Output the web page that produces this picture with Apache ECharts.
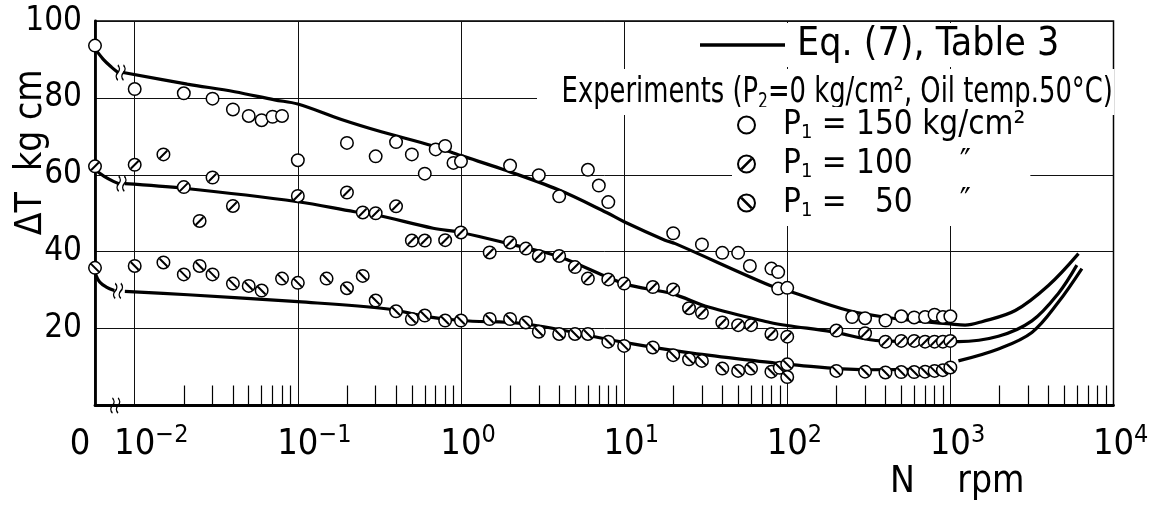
<!DOCTYPE html>
<html><head><meta charset="utf-8">
<script src="https://cdn.jsdelivr.net/npm/echarts@6/dist/echarts.min.js"></script>
<style>html,body{margin:0;padding:0;background:#fff}#c{width:1157px;height:510px}</style>
</head><body><div id="c"></div>
<script>
// ---- axis definition (N in rpm, log scale; N = 0 is drawn at the left end of the axis) ----
const AXIS_MIN_N = 0.00571;
const AXIS_MAX_N = 10000;
const DECADES = [-2, -1, 0, 1, 2, 3, 4];
const MINOR_MULT = [2, 3, 4, 5, 6, 7, 8, 9];
const Y_TICKS = [0, 20, 40, 60, 80, 100];

// ---- experiments ----
const N_150 = [0, 0.01, 0.02, 0.03, 0.04, 0.05, 0.06, 0.07, 0.08, 0.1, 0.2, 0.3, 0.4, 0.5, 0.6, 0.7, 0.8, 0.9, 1, 2, 3, 4, 6, 7, 8, 20, 30, 40, 50, 59, 80, 88, 88, 100, 250, 300, 400, 500, 600, 700, 800, 900, 1000];
const T_150 = [93.6, 82.3, 81.2, 79.8, 77.0, 75.3, 74.2, 75.1, 75.3, 63.8, 68.3, 64.8, 68.5, 65.3, 60.3, 66.6, 67.5, 63.1, 63.5, 62.4, 59.9, 54.4, 61.3, 57.2, 52.9, 44.8, 41.9, 39.7, 39.7, 36.3, 35.6, 34.7, 30.4, 30.6, 23.0, 22.7, 22.1, 23.2, 22.9, 23.0, 23.6, 23.0, 23.2];

const N_100 = [0, 0.01, 0.015, 0.02, 0.025, 0.03, 0.04, 0.1, 0.2, 0.25, 0.3, 0.4, 0.5, 0.6, 0.8, 1, 1.5, 2, 2.5, 3, 4, 5, 6, 8, 10, 15, 20, 25, 30, 40, 50, 60, 80, 100, 200, 300, 400, 500, 600, 700, 800, 900, 1000];
const T_100 = [62.2, 62.6, 65.3, 56.8, 48.0, 59.3, 51.9, 54.5, 55.4, 50.2, 50.0, 51.8, 42.9, 42.9, 43.0, 45.0, 39.8, 42.4, 40.8, 38.9, 38.9, 36.0, 33.0, 32.8, 31.7, 30.8, 30.2, 25.3, 24.1, 21.6, 20.9, 20.9, 18.6, 17.9, 19.5, 18.8, 16.6, 16.8, 16.8, 16.6, 16.6, 16.6, 16.8];

const N_50 = [0, 0.01, 0.015, 0.02, 0.025, 0.03, 0.04, 0.05, 0.06, 0.08, 0.1, 0.15, 0.2, 0.25, 0.3, 0.4, 0.5, 0.6, 0.8, 1, 1.5, 2, 2.5, 3, 4, 5, 6, 8, 10, 15, 20, 25, 30, 40, 50, 60, 80, 90, 100, 100, 200, 300, 400, 500, 600, 700, 800, 900, 1000];
const T_50 = [35.8, 36.3, 37.2, 34.1, 36.3, 34.1, 31.7, 31.1, 29.9, 33.0, 31.9, 33.0, 30.5, 33.7, 27.3, 24.5, 22.5, 23.4, 22.1, 22.1, 22.5, 22.5, 21.6, 19.2, 18.6, 18.6, 18.6, 16.6, 15.5, 15.1, 13.1, 12.0, 11.6, 9.6, 9.0, 9.6, 8.8, 9.8, 10.7, 7.4, 9.0, 8.8, 8.6, 8.7, 8.7, 8.8, 9.0, 9.2, 9.9];

// ---- Eq.(7) curves (null T = break in the curve) ----
const CURVE_150_N = [0, 0.0064, 0.0072, 0.0079, 0.0082, 0.0085, 0.021, 0.041, 0.072, 0.1, 0.185, 0.325, 0.675, 1, 1.78, 3.96, 7.8, 10, 17.8, 20.6, 78.5, 100, 237, 481, 1000, 1230, 1560, 2500, 3990, 6100];
const CURVE_150_T = [92.8, 90.1, 88.0, 86.6, null, 86.6, 83.6, 81.6, 79.5, 78.4, 74.4, 71.2, 67.5, 65.0, 61.5, 56.1, 50.2, 47.8, 43.0, 42.1, 31.2, 29.9, 24.7, 22.5, 21.2, 20.9, 21.8, 24.7, 31.2, 39.5];

const CURVE_100_N = [0, 0.0065, 0.0074, 0.0080, 0.0083, 0.0087, 0.02, 0.1, 0.223, 0.3, 0.675, 1, 1.95, 4, 10, 19.6, 32.9, 78.5, 100, 187, 380, 1000, 1120, 1970, 3160, 4600, 5960];
const CURVE_100_T = [61.3, 59.6, 58.3, 57.7, null, 57.7, 56.5, 53.0, 50.4, 49.6, 46.1, 45.0, 42.1, 38.7, 31.7, 29.1, 25.6, 21.6, 20.8, 19.2, 16.8, 16.6, 16.6, 18.0, 22.0, 29.2, 36.5];

const CURVE_50_N = [0, 0.0061, 0.0067, 0.0075, 0.0081, 0.0087, 0.0212, 0.1, 0.357, 0.6, 1, 2.5, 10, 26, 78.5, 100, 300, 1000, 1060, 1120, 1970, 3160, 4600, 6400];
const CURVE_50_T = [34.5, 32.1, 30.8, 29.9, null, 29.7, 28.8, 27.0, 25.1, 23.2, 22.1, 21.2, 16.4, 13.6, 11.2, 10.7, 9.3, 9.5, null, 11.6, 14.7, 19.0, 26.9, 35.6];

// ---- axis-break marks ----
const BREAK_N = [0.0082, 0.0083, 0.0079, 0.0076];
const BREAK_T = [86.6, 57.7, 29.8, 0];

const EQ_NAME = 'Eq. (7), Table 3';
const P150_NAME = 'P1 = 150 kg/cm²';
const P100_NAME = 'P1 = 100 kg/cm²';
const P50_NAME = 'P1 = 50 kg/cm²';

const FONT = "'Liberation Sans Narrow', 'DejaVu Sans Condensed', 'Roboto Condensed', sans-serif";

const toX = n => Math.log10(n === 0 ? AXIS_MIN_N : n);
const X_MIN = toX(0), X_MAX = Math.log10(AXIS_MAX_N);
const pts = (ns, ts) => ns.map((n, i) => [toX(n), ts[i] === null ? '-' : ts[i]]);
const MINOR_X = [];
DECADES.slice(0, -1).forEach(d => MINOR_MULT.forEach(m => MINOR_X.push(Math.log10(m) + d)));

const SYM_SLASH_UP = 'path://M10,0A10,10,0,1,1,10,20A10,10,0,1,1,10,0ZM3.7,15.7L15.7,3.7M4.3,16.3L16.3,4.3';
const SYM_SLASH_DOWN = 'path://M10,0A10,10,0,1,1,10,20A10,10,0,1,1,10,0ZM4.3,3.7L16.3,15.7M3.7,4.3L15.7,16.3';
const SYM_BREAK = 'path://M2,0C4,2,4,4,2,6C0,8,0,10,2,12M7,0C9,2,9,4,7,6C5,8,5,10,7,12';

const supLabel = v => {
  const e = Math.round(v);
  const s = e < 0 ? '\u2212' + (-e) : String(e);
  return '{h|' + s + '}{b|10}{sup|' + s + '}';
};

const LEGEND_TEXT = {};
LEGEND_TEXT[EQ_NAME] = EQ_NAME;
LEGEND_TEXT[P150_NAME] = '{t|P}{s|1}{t| = 150 kg/cm²}';
LEGEND_TEXT[P100_NAME] = '{t|P}{s|1}{t| = 100     \u2033}';
LEGEND_TEXT[P50_NAME] = '{t|P}{s|1}{t| =   50     \u2033}';

const curve = (ns, ts) => ({
  type: 'line', name: EQ_NAME, data: pts(ns, ts), showSymbol: false, symbol: 'none',
  smooth: 0.35, connectNulls: false, clip: false, z: 3, silent: true,
  lineStyle: { color: '#000', width: 3.2, opacity: 1 }, itemStyle: { color: '#000', opacity: 1 }
});
const markers = (name, ns, ts, sym) => ({
  type: 'scatter', name, data: pts(ns, ts), symbol: sym, symbolSize: 12.5, clip: false, z: 4,
  itemStyle: { color: '#fff', borderColor: '#000', borderWidth: 1.5, opacity: 1 }
});

const chart = echarts.init(document.getElementById('c'), null, { renderer: 'canvas' });
chart.setOption({
  animation: false,
  backgroundColor: '#fff',
  grid: {
    left: 95, right: 43.5, top: 21, bottom: 104.5, containLabel: false, outerBoundsMode: 'none',
    show: true, borderColor: '#000', borderWidth: 1.5, backgroundColor: 'transparent'
  },
  xAxis: [{
    type: 'value', position: 'bottom', min: X_MIN, max: X_MAX,
    axisLine: { show: true, onZero: false, lineStyle: { color: '#000', width: 2.8 } },
    axisTick: { show: false, customValues: DECADES.slice(0, -1) },
    splitLine: { show: true, lineStyle: { color: '#111', width: 1 } },
    axisLabel: {
      customValues: DECADES, formatter: supLabel, margin: 17, color: '#000',
      showMinLabel: true, showMaxLabel: true,
      rich: {
        b: { fontFamily: FONT, fontSize: 36, lineHeight: 44, color: '#000' },
        sup: { fontFamily: FONT, fontSize: 25, lineHeight: 20, verticalAlign: 'top', color: '#000' },
        h: { fontFamily: FONT, fontSize: 25, lineHeight: 20, verticalAlign: 'top', color: 'rgba(0,0,0,0)' }
      }
    },
    name: 'N    rpm', nameLocation: 'middle', nameGap: 58, nameMoveOverlap: false,
    nameTextStyle: { fontFamily: FONT, fontSize: 37, color: '#000', padding: [0, 0, 0, 706] }
  }, {
    type: 'value', position: 'bottom', min: X_MIN, max: X_MAX,
    axisLine: { show: false, onZero: false }, splitLine: { show: false },
    axisLabel: {
      show: true, customValues: [X_MIN], formatter: () => '{z|0}', margin: 17, showMinLabel: true,
      rich: { z: { fontFamily: FONT, fontSize: 36, lineHeight: 44, color: '#000', padding: [0, 30, 0, 0] } }
    },
    axisTick: { show: true, inside: true, length: 20, customValues: MINOR_X, lineStyle: { color: '#000', width: 1.2 } }
  }],
  yAxis: {
    type: 'value', min: Y_TICKS[0], max: Y_TICKS[Y_TICKS.length - 1], interval: 20,
    axisLine: { show: true, onZero: false, lineStyle: { color: '#000', width: 2.8 } },
    axisTick: { show: false },
    splitLine: { show: true, lineStyle: { color: '#111', width: 1 } },
    axisLabel: { formatter: v => (v === 0 ? '' : String(v)), fontFamily: FONT, fontSize: 33, color: '#000', margin: 13 },
    name: '\u0394T  kg cm', nameLocation: 'middle', nameRotate: 90, nameGap: 45, nameMoveOverlap: false,
    nameTextStyle: { fontFamily: FONT, fontSize: 37, color: '#000', padding: [0, 0, 0, 122] }
  },
  legend: [{
    data: [EQ_NAME], left: 695, top: 23, orient: 'horizontal', icon: 'rect', z: 4,
    itemWidth: 85, itemHeight: 3.6, padding: [2, 5, 2, 5], backgroundColor: '#fff', selectedMode: false,
    itemStyle: { color: '#000', opacity: 1 },
    textStyle: { fontFamily: FONT, fontSize: 39, lineHeight: 40, color: '#000', padding: [0, 0, 0, 7] }
  }, {
    data: [P150_NAME, P100_NAME, P50_NAME], left: 732, top: 107, orient: 'vertical', z: 4,
    itemWidth: 17, itemHeight: 17, itemGap: 3, padding: [0, 5, 5, 5], backgroundColor: '#fff', selectedMode: false,
    itemStyle: { opacity: 1 },
    formatter: name => LEGEND_TEXT[name],
    textStyle: {
      fontFamily: FONT, fontSize: 33, lineHeight: 36, color: '#000', padding: [0, 0, 0, 23],
      rich: {
        t: { fontFamily: FONT, fontSize: 33, lineHeight: 36, color: '#000' },
        s: { fontFamily: FONT, fontSize: 20, lineHeight: 20, verticalAlign: 'bottom', color: '#000' }
      }
    }
  }],
  graphic: [{
    type: 'text', x: 537, y: 69, scaleX: 0.82, z: 3, silent: true,
    style: {
      text: '{t|Experiments (P}{s|2}{t|=0 kg/cm², Oil temp.50°C)}',
      rich: {
        t: { fontFamily: FONT, fontSize: 35, lineHeight: 40, fill: '#000' },
        s: { fontFamily: FONT, fontSize: 21, lineHeight: 24, verticalAlign: 'bottom', fill: '#000' }
      },
      fill: '#000', backgroundColor: '#fff', padding: [4, 2, 2, 30]
    }
  }],
  series: [
    curve(CURVE_150_N, CURVE_150_T),
    curve(CURVE_100_N, CURVE_100_T),
    curve(CURVE_50_N, CURVE_50_T),
    markers(P150_NAME, N_150, T_150, 'circle'),
    markers(P100_NAME, N_100, T_100, SYM_SLASH_UP),
    markers(P50_NAME, N_50, T_50, SYM_SLASH_DOWN),
    {
      type: 'scatter', name: 'axis break', data: pts(BREAK_N, BREAK_T), symbol: SYM_BREAK,
      symbolSize: [9, 15], clip: false, z: 5, silent: true,
      itemStyle: { color: 'rgba(0,0,0,0)', borderColor: '#000', borderWidth: 1.6, opacity: 1 }
    }
  ]
});
</script></body></html>
